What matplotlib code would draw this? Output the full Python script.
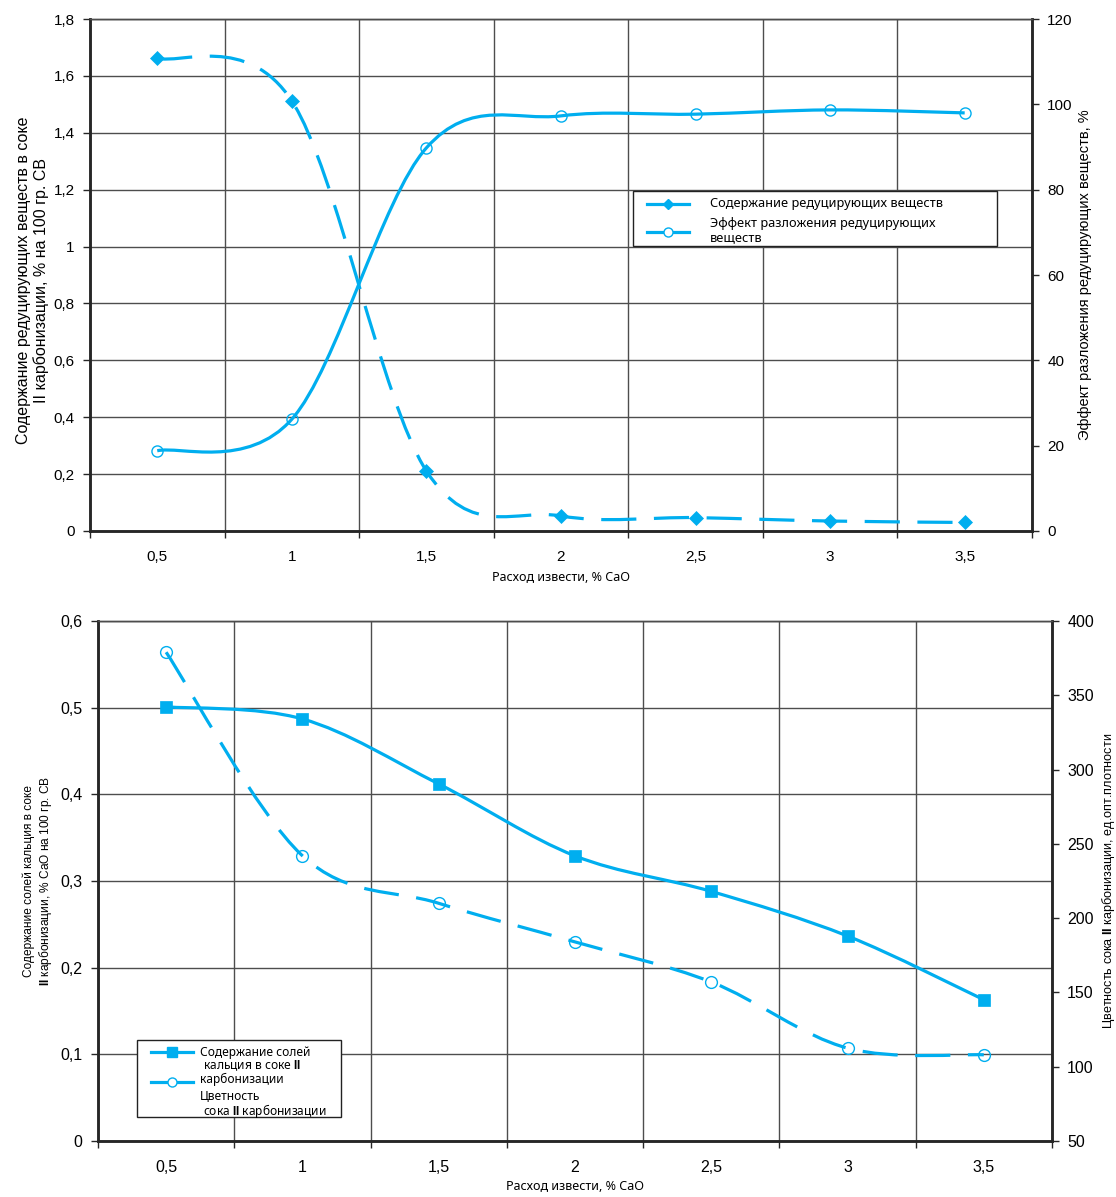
import numpy as np
import matplotlib
matplotlib.use("Agg")
import matplotlib.pyplot as plt
from matplotlib.path import Path
from matplotlib.patches import PathPatch, Rectangle
from matplotlib.lines import Line2D
from matplotlib.ticker import FixedLocator

plt.rcParams['font.family'] = ['Liberation Sans', 'DejaVu Sans']
plt.rcParams['mathtext.fontset'] = 'custom'
plt.rcParams['mathtext.bf'] = 'Liberation Sans:bold'
plt.rcParams['mathtext.rm'] = 'Liberation Sans'

# ---------------- data ----------------
categories = ["0,5", "1", "1,5", "2", "2,5", "3", "3,5"]

# top chart
reducing_content = [1.663, 1.512, 0.211, 0.053, 0.047, 0.035, 0.030]    # left axis
decomposition_effect = [18.8, 26.2, 89.8, 97.3, 97.7, 98.7, 98.0]       # right axis

# bottom chart
calcium_salts = [0.501, 0.487, 0.412, 0.329, 0.288, 0.2365, 0.163]      # left axis
juice_color = [379, 242, 210, 184, 157, 112.5, 108]                      # right axis

top_left_ticks = [0, 0.2, 0.4, 0.6, 0.8, 1, 1.2, 1.4, 1.6, 1.8]
top_left_labels = ["0", "0,2", "0,4", "0,6", "0,8", "1", "1,2", "1,4", "1,6", "1,8"]
top_right_ticks = [0, 20, 40, 60, 80, 100, 120]
bot_left_ticks = [0, 0.1, 0.2, 0.3, 0.4, 0.5, 0.6]
bot_left_labels = ["0", "0,1", "0,2", "0,3", "0,4", "0,5", "0,6"]
bot_right_ticks = [50, 100, 150, 200, 250, 300, 350, 400]

BLUE = '#00AEEF'
SPINE = '#262626'
GRID = '#4d4d4d'
LW = 2.3
DASH = (0, (11, 5.5))
W, H = 1116, 1197


def smooth_path(xs, ys):
    pts = np.column_stack([xs, ys]).astype(float)
    n = len(pts)
    verts = [pts[0]]
    codes = [Path.MOVETO]
    for i in range(n - 1):
        p0 = pts[max(i - 1, 0)]
        p1 = pts[i]
        p2 = pts[i + 1]
        p3 = pts[min(i + 2, n - 1)]
        c1 = p1 + (p2 - p0) / 6.0
        c2 = p2 - (p3 - p1) / 6.0
        verts += [c1, c2, p2]
        codes += [Path.CURVE4] * 3
    return Path(verts, codes)


def draw_series(ax, ys, ls, marker, ms, filled):
    xs = np.arange(len(ys))
    patch = PathPatch(smooth_path(xs, ys), fill=False, edgecolor=BLUE, lw=LW,
                      linestyle=ls, capstyle='butt', zorder=4)
    ax.add_patch(patch)
    ax.plot(xs, ys, linestyle='none', marker=marker, ms=ms,
            markerfacecolor=BLUE if filled else 'none',
            markeredgecolor=BLUE, markeredgewidth=1.0 if not filled else 0.5,
            zorder=5, clip_on=False)


def setup_axes(ax, axr, lticks, llabels, rticks, fs_tick):
    n = len(categories)
    ax.set_xlim(-0.5, n - 0.5)
    ax.set_xticks(np.arange(n))
    ax.set_xticklabels(categories, fontsize=fs_tick)
    ax.xaxis.set_minor_locator(FixedLocator(np.arange(-0.5, n, 1.0)))
    ax.tick_params(axis='x', which='major', length=0, pad=14)
    ax.tick_params(axis='x', which='minor', length=5, width=1.0, color=SPINE)
    ax.grid(True, which='minor', axis='x', color=GRID, lw=1.0)
    ax.set_yticks(lticks)
    ax.set_yticklabels(llabels, fontsize=fs_tick)
    ax.set_ylim(lticks[0], lticks[-1])
    ax.grid(True, which='major', axis='y', color=GRID, lw=1.0)
    ax.tick_params(axis='y', length=5, width=1.0, color=SPINE, pad=6)
    ax.set_axisbelow(True)
    axr.set_ylim(rticks[0], rticks[-1])
    axr.set_yticks(rticks)
    axr.set_yticklabels([str(t) for t in rticks], fontsize=fs_tick)
    axr.tick_params(axis='y', length=5, width=1.0, color=SPINE, pad=6)
    for a in (ax, axr):
        for s in ['left', 'right', 'bottom']:
            a.spines[s].set_color(SPINE)
            a.spines[s].set_linewidth(1.8)
        a.spines['top'].set_color(GRID)
        a.spines['top'].set_linewidth(1.0)


def fx(x):
    return x / W


def fy(y):
    return 1 - y / H


def legend_box(fig, x0, y0, x1, y1, entries, font_size, text_x, linespacing):
    fig.add_artist(Rectangle((fx(x0), fy(y1)), fx(x1) - fx(x0), fy(y0) - fy(y1),
                             transform=fig.transFigure, facecolor='white',
                             edgecolor='#222222', lw=1.0, zorder=10))
    for (hy, marker, ms, filled, label, ty) in entries:
        fig.add_artist(Line2D([fx(x0 + 14), fx(x0 + 56)], [fy(hy), fy(hy)],
                              transform=fig.transFigure, color=BLUE, lw=LW, zorder=11))
        fig.add_artist(Line2D([fx(x0 + 35)], [fy(hy)], transform=fig.transFigure,
                              linestyle='none', marker=marker, ms=ms,
                              markerfacecolor=BLUE if filled else 'white',
                              markeredgecolor=BLUE, markeredgewidth=1.0, zorder=12))
        fig.text(fx(text_x), fy(ty), label, fontsize=font_size,
                 family=['Noto Sans', 'DejaVu Sans'], va='center', ha='left',
                 linespacing=linespacing, zorder=12)


fig = plt.figure(figsize=(W / 100, H / 100), dpi=100)

# ---------------- top chart ----------------
ax1 = fig.add_axes([0.0806, 0.5564, 0.8441, 0.4277])
ax1r = ax1.twinx()
setup_axes(ax1, ax1r, top_left_ticks, top_left_labels, top_right_ticks, 11)
draw_series(ax1, reducing_content, DASH, 'D', 7, True)
draw_series(ax1r, decomposition_effect, '-', 'o', 8, False)
ax1.set_ylabel("Содержание редуцирующих веществ в соке\nII карбонизации, % на 100 гр. СВ",
               fontsize=11.5, linespacing=1.2)
ax1.yaxis.set_label_coords(-0.043, 0.49)
ax1r.set_ylabel("Эффект разложения редуцирующих веществ, %", fontsize=10.5)
ax1r.yaxis.set_label_coords(1.049, 0.5)
ax1.set_xlabel("Расход извести, % CaO", fontsize=9, labelpad=5, family='Noto Sans')

legend_box(fig, 633, 191, 997, 246,
           [(204, 'D', 5.5, True, "Содержание редуцирующих веществ", 204),
            (232, 'o', 6.5, False, "Эффект разложения редуцирующих\nвеществ", 230.5)],
           9.2, 710, 1.15)

# ---------------- bottom chart ----------------
ax2 = fig.add_axes([0.0878, 0.0468, 0.8548, 0.4344])
ax2r = ax2.twinx()
setup_axes(ax2, ax2r, bot_left_ticks, bot_left_labels, bot_right_ticks, 11.5)
draw_series(ax2, calcium_salts, '-', 's', 9, True)
draw_series(ax2r, juice_color, DASH, 'o', 8.5, False)
ax2.set_ylabel("Содержание солей кальция в соке\n$\\mathbf{II}$ карбонизации, % CaO на 100 гр. СВ",
               fontsize=8.6, linespacing=1.2)
ax2.yaxis.set_label_coords(-0.046, 0.5)
ax2r.set_ylabel("Цветность сока $\\mathbf{II}$ карбонизации, ед.опт.плотности", fontsize=9.1)
ax2r.yaxis.set_label_coords(1.050, 0.5)
ax2.set_xlabel("Расход извести, % CaO", fontsize=9, labelpad=3, family='Noto Sans')

legend_box(fig, 137, 1040, 341, 1117,
           [(1052, 's', 7, True, "Содержание солей\n кальция в соке $\\mathbf{II}$\nкарбонизации", 1066),
            (1082, 'o', 6.5, False, "Цветность\n сока $\\mathbf{II}$ карбонизации", 1105)],
           8.6, 200, 0.98)

fig.savefig("out.png", dpi=100)
